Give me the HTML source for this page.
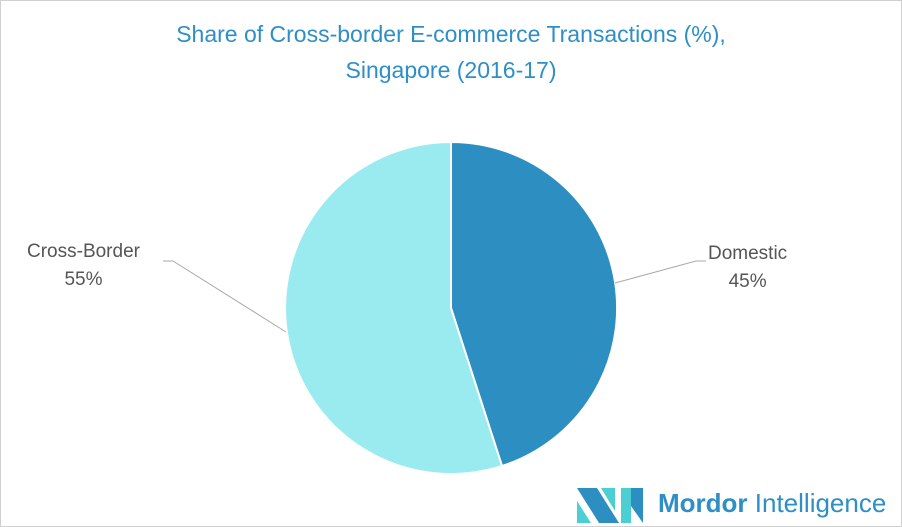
<!DOCTYPE html>
<html><head><style>
body{margin:0;background:#fff}
#c{position:relative;width:900px;height:525px;border:1px solid #d0d0d0;overflow:hidden;font-family:"Liberation Sans",sans-serif}
.t{position:absolute;left:0;width:900px;text-align:center;color:#2e8fc6;font-size:23px}
.l{position:absolute;color:#555;font-size:19px;text-align:center;line-height:28px}
</style></head><body><div id="c">
<div class="t" style="top:20px">Share of Cross-border E-commerce Transactions (%),</div>
<div class="t" style="top:56px">Singapore (2016-17)</div>
<svg width="900" height="525" style="position:absolute;left:0;top:0">
<path d="M450,307 L450,141 A166,166 0 0 1 501,465 Z" fill="#2d8fc1" stroke="#fff" stroke-width="2"/>
<path d="M450,307 L501,465 A166,166 0 1 1 450,141 Z" fill="#9aebf0" stroke="#fff" stroke-width="2"/>
<polyline points="162,260 172,260 285,331" fill="none" stroke="#aaa" stroke-width="1"/>
<polyline points="614,282 695,260 705,260" fill="none" stroke="#aaa" stroke-width="1"/>
<polygon points="576,487 596,487 618,522 598,522" fill="#2d8fc1"/>
<polygon points="576,500 590,522 576,522" fill="#4ccfd3"/>
<polygon points="600,487 614,487 614,510" fill="#4ccfd3"/>
<polygon points="620,487 630,487 630,522 620,522" fill="#4ccfd3"/>
<polygon points="630,487 642,487 642,522 630,505" fill="#2d8fc1"/>
</svg>
<div class="l" style="left:26px;top:237px">Cross-Border<br>55%</div>
<div class="l" style="left:707px;top:239px">Domestic<br>45%</div>
<div style="position:absolute;left:657px;top:487px;font-size:26px;color:#2e8fc6"><b>Mordor</b> Intelligence</div>
</div></body></html>
